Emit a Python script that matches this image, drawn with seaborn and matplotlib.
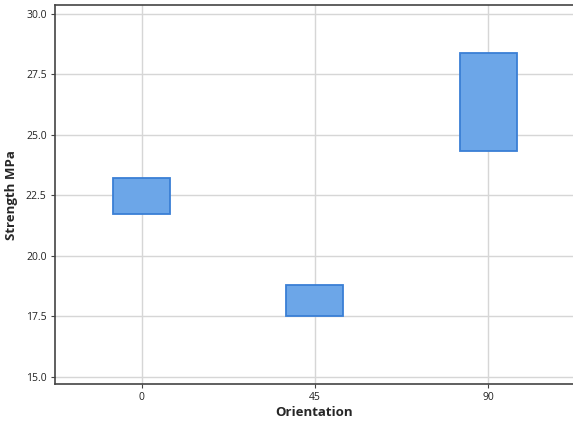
import matplotlib
matplotlib.use("Agg")
import matplotlib.pyplot as plt
import seaborn as sns
import pandas as pd

orientation = ["0", "45", "90"]
low = [21.72, 17.52, 24.35]
high = [23.22, 18.80, 28.38]

df = pd.DataFrame({"Orientation": orientation,
                   "span": [h - l for h, l in zip(high, low)]})

sns.set_theme(style="whitegrid")
plt.rcParams["font.family"] = ["Open Sans", "DejaVu Sans"]

fig = plt.figure(figsize=(5.73, 4.23), dpi=100)
ax = fig.add_axes([0.096, 0.092, 0.904, 0.896])

sns.barplot(data=df, x="Orientation", y="span", order=orientation,
            bottom=low, width=0.33, color="#6ca6e8", saturation=1,
            edgecolor="#3a7fd5", linewidth=1.3, ax=ax, zorder=3)

ax.set_ylim(14.7, 30.36)
ax.set_xlim(-0.5, 2.49)
ax.set_yticks([15.0, 17.5, 20.0, 22.5, 25.0, 27.5, 30.0])
ax.set_yticklabels(["15.0", "17.5", "20.0", "22.5", "25.0", "27.5", "30.0"])
ax.grid(True, color="#d6d6d6", linewidth=1.0, zorder=0)
ax.set_axisbelow(True)
for s in ax.spines.values():
    s.set_color("#444444")
    s.set_linewidth(1.2)
ax.spines["right"].set_visible(False)
ax.tick_params(axis="both", which="both", length=3, width=0.8, color="#444444",
               labelsize=7.5, labelcolor="#222222", pad=3, bottom=True, left=True)
ax.set_xlabel("Orientation", fontsize=9.5, fontweight="bold", labelpad=2)
ax.set_ylabel("Strength MPa", fontsize=9.5, fontweight="bold", labelpad=6)

fig.savefig("out.png", dpi=100)
